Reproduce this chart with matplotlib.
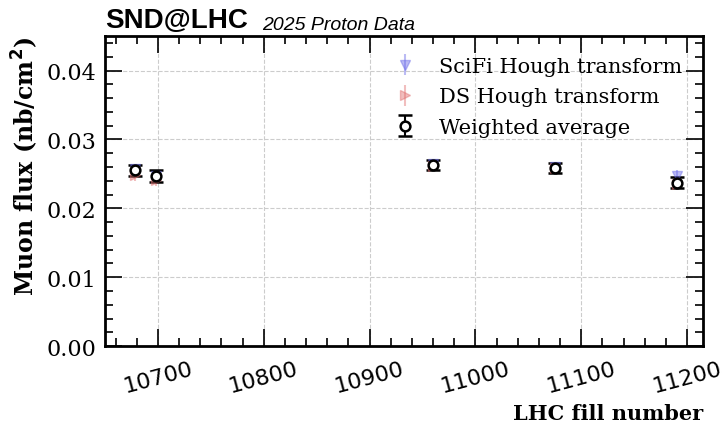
import numpy as np
import matplotlib
matplotlib.use("Agg")
import matplotlib.pyplot as plt
from matplotlib.ticker import AutoMinorLocator

# fill-by-fill muon flux, 2025 proton run
fills = [10678, 10698, 10960, 11075, 11190]
flux_scifi = [0.0257, 0.0247, 0.0264, 0.0260, 0.0247]
err_scifi = [0.0008, 0.0008, 0.0008, 0.0008, 0.0008]
flux_ds = [0.0248, 0.0241, 0.0262, 0.0258, 0.0235]
err_ds = [0.0008, 0.0008, 0.0008, 0.0008, 0.0008]
flux_avg = [0.0255, 0.0247, 0.0263, 0.0259, 0.0237]
err_avg = [0.0008, 0.0008, 0.0007, 0.0007, 0.0008]

plt.rcParams['font.family'] = 'DejaVu Serif'

fig = plt.figure(figsize=(7.24, 4.27), dpi=100)
ax = fig.add_axes([0.145, 0.187, 0.826, 0.726])

ax.errorbar(fills, flux_scifi, yerr=err_scifi, fmt='v', color='#6a6ae8', alpha=0.45,
            markersize=7, capsize=0, label='SciFi Hough transform')
ax.errorbar(fills, flux_ds, yerr=err_ds, fmt='>', color='#e07070', alpha=0.45,
            markersize=7, capsize=0, label='DS Hough transform')
ax.errorbar(fills, flux_avg, yerr=err_avg, fmt='o', color='black', mfc='white', mec='black',
            mew=1.8, markersize=7, capsize=5, capthick=2, elinewidth=1.5, label='Weighted average')

ax.set_ylim(0, 0.045)
ax.set_xlim(10650, 11215)
ax.set_yticks([0.0, 0.01, 0.02, 0.03, 0.04])
ax.xaxis.set_minor_locator(AutoMinorLocator(5))
ax.yaxis.set_minor_locator(AutoMinorLocator(5))
ax.tick_params(which='both', direction='in', top=True, right=True, width=1.2)
ax.tick_params(which='major', length=12)
ax.tick_params(which='minor', length=6)
ax.tick_params(axis='y', labelsize=16, pad=6)
ax.tick_params(axis='x', pad=9)
for lab in ax.get_xticklabels():
    lab.set_family('DejaVu Sans')
    lab.set_fontsize(16)
    lab.set_rotation(15)
for s in ax.spines.values():
    s.set_linewidth(2)
ax.grid(True, which='major', linestyle='--', color='#cccccc', linewidth=0.8)

ax.set_ylabel('Muon flux (nb/cm$^\\mathbf{2}$)', fontsize=17, fontweight='bold',
              loc='top', labelpad=5)
ax.set_xlabel('LHC fill number', fontsize=15, fontweight='bold', loc='right', labelpad=5)

ax.legend(loc='upper right', frameon=False, fontsize=15, handlelength=1.5, handletextpad=0.9,
          borderaxespad=0.6, labelspacing=0.55)

ax.text(0.0, 1.01, 'SND@LHC', transform=ax.transAxes, fontsize=20, fontweight='bold',
        family='Liberation Sans', va='bottom', ha='left')
ax.text(0.262, 1.01, '2025 Proton Data', transform=ax.transAxes, fontsize=14, style='italic',
        family='Liberation Sans', va='bottom', ha='left')

fig.savefig('out.png', dpi=100)
